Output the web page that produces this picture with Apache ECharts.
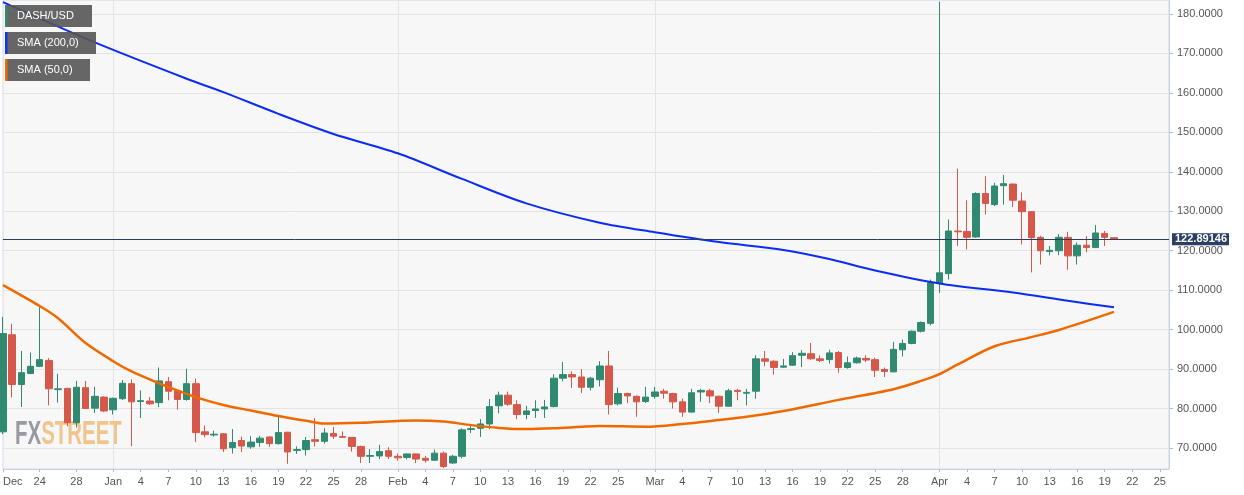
<!DOCTYPE html>
<html><head><meta charset="utf-8">
<script src="https://cdn.jsdelivr.net/npm/echarts@6/dist/echarts.min.js"></script>
<style>html,body{margin:0;padding:0;background:#fff}#c{width:1244px;height:495px}</style>
</head><body><div id="c"></div>
<script>
// ---- data ----
const firstDay = '2018-12-20';
const open = [
 74.1,98.7,86.1,88.9,90.7,92.2,84.8,85.1,76.4,85.3,80.1,82.9,
 79.7,82.5,86.3,81.8,81.9,81.5,86.8,84.5,82.3,86.3,74.1,73.3,73.6,70.1,71.9,70.3,71.4,72.8,71.1,74,69.4,69.6,72.1,71.7,73.7,72.9,72.7,70.4,67.9,68,69.3,
 67.9,67.6,68.5,67.4,66.9,68.7,66.2,67.9,74.7,75,76.1,80.7,83.4,81,78.5,79.5,79.9,80.5,87.7,88.6,88,85.4,87.3,90.8,81.2,83.8,83.1,81.8,
 83.1,84.4,83.8,81.7,79.1,84.2,84.5,83.1,80.6,84.6,83.9,84.4,92.6,92,90.5,91,93.5,93.9,92.6,92.4,94.2,90.4,91.6,92.7,92.4,89.9,89.3,94.9,96.5,99.6,101.6,
 111.9,114.2,125,124.9,123.5,134.5,131.7,136.5,136.9,132.6,129.9,123.4,119.8,120,123.4,118.7,121.4,120.8,124.4,123.3];
const close = [
 99,86.1,89.1,90.7,92.4,85,85,76.4,85.4,80,83.1,79.4,
 82.6,86.4,81.7,82,81.2,87,84.4,82.3,86.3,73.9,73.4,73.5,69.8,71.4,70.5,71.5,72.5,71.1,73.9,69,69.6,71.9,71.7,73.8,73,72.7,70.4,67.9,68.1,69.1,67.9,
 67.5,68.5,67.2,66.9,68.7,65.3,67.9,74.6,74.9,76.1,80.5,83.4,81.1,78.5,79.4,79.9,80.4,87.7,88.6,88,85.4,87.7,90.8,81,83.8,83.2,81.7,82.9,
 84.2,83.9,81.7,79.1,84,84.6,83.2,80.6,84.5,84.3,84.1,92.6,92,90.4,90.8,93.4,94,92.6,92.2,94.1,90.4,91.6,92.8,92.3,89.7,89.4,95,96.5,99.6,101.8,111.9,
 114.4,125,124.8,123.4,134.5,132,136.4,137,132.8,129.9,123.3,120,120.1,123.4,118.7,121.4,120.8,124.5,123.4,122.9];
const low = [
 73.5,82.8,80.4,88.7,90.5,80.8,81.5,75.5,75.2,80,78.9,79.1,
 78.5,82.2,70.5,77.6,80.9,80.4,82.1,79.7,82,71.5,72.7,72.9,69,68.6,69,69.8,70.3,70.3,70.9,66,68.5,68.1,70.4,71.1,72.3,72.6,69.1,66.2,66.2,67.2,67.2,
 66.8,67.1,66.2,66.3,66.8,64.9,66,67.4,73.8,72.8,74.8,78.8,80.7,77.3,77.3,77.6,77.6,80.3,86.9,85.2,83.9,84.6,85.6,78.5,80.8,81.4,77.9,81.4,
 82.5,82.5,80,77.9,79,81.7,81.4,78.9,80.5,82.1,80.8,82.5,90.7,88.6,90.3,90.8,90.5,92.4,91.8,91.4,89.1,90.1,91.4,91.8,88,88,89.2,93.2,96.3,99.3,101.1,
 109.3,112.7,121.2,120.3,123.3,129.2,131.3,131.7,131.1,121.6,114.5,116.5,118.8,118.9,115.2,116.5,119.6,120.8,121.2,122.9];
const high = [
 103.2,101.5,94.6,94.2,105.7,92.8,88.8,85.3,87,87,85.5,83.1,
 82.8,87.2,87.4,84.6,82.9,90.4,88,84.8,90.1,87.6,75.7,74.4,73.8,74.8,72.9,73,73.1,73,78,74.1,70.4,72.8,77.6,75,75.3,74.2,72.8,70.6,69.7,70.8,70.2,
 68.6,68.6,68.6,68,69.6,69.1,68.3,75,75.9,77.3,82.4,84.3,84.3,82.1,80.7,82.1,82.2,88.7,91.8,89.4,90,88,92,94.6,85.3,84,83.3,85.5,
 85.5,85,84,82.5,85,85,85,83.3,85,85,85,93.5,94.6,92.2,92.6,94.3,94.8,96.6,93.5,94.9,94.6,93.2,93.2,93.5,92.9,90.4,96.9,97.5,99.8,102.1,112.7,
 183.1,127.9,140.8,132.8,134.8,138.9,137.2,139.2,137,134.8,130,123.8,121.2,124.2,124.8,122.1,123.7,126.5,125,123.3];

const sma200Dates = ['2018-12-20','2018-12-30','2019-01-09','2019-01-13','2019-01-19','2019-01-25','2019-02-01','2019-02-08','2019-02-15','2019-02-23','2019-03-01','2019-03-08','2019-03-15','2019-03-20','2019-03-25','2019-04-01','2019-04-09','2019-04-15','2019-04-20'];
const sma200 = [183.0,172.8,163.6,160.2,154.7,149.6,144.7,138.2,132.0,127.1,124.7,122.2,120.2,117.9,115.0,111.7,109.4,107.3,105.65];

const sma50Dates = ['2018-12-20','2018-12-24','2018-12-26','2018-12-29','2019-01-01','2019-01-03','2019-01-06','2019-01-08','2019-01-10','2019-01-13','2019-01-16','2019-01-19','2019-01-22','2019-01-24','2019-01-28','2019-02-03','2019-02-06','2019-02-09','2019-02-12','2019-02-15','2019-02-18','2019-02-21','2019-02-23','2019-02-28','2019-03-04','2019-03-08','2019-03-11','2019-03-15','2019-03-21','2019-03-27','2019-03-30','2019-04-01','2019-04-03','2019-04-07','2019-04-11','2019-04-14','2019-04-20'];
const sma50 = [111.3,106,102.9,96.6,92.0,89.4,86.4,84.6,82.9,80.9,79.5,78.1,76.9,76.2,76.4,77.0,76.7,75.8,75.1,74.8,75.0,75.4,75.6,75.4,76.1,77.1,77.9,79.4,82.2,84.9,87.0,88.7,91.2,95.8,98.1,99.9,104.5];

const xTickDates = ['2018-12-20','2018-12-24','2018-12-28','2019-01-01','2019-01-04','2019-01-07','2019-01-10','2019-01-13','2019-01-16','2019-01-19','2019-01-22','2019-01-25','2019-01-28','2019-02-01','2019-02-04','2019-02-07','2019-02-10','2019-02-13','2019-02-16','2019-02-19','2019-02-22','2019-02-25','2019-03-01','2019-03-04','2019-03-07','2019-03-10','2019-03-13','2019-03-16','2019-03-19','2019-03-22','2019-03-25','2019-03-28','2019-04-01','2019-04-04','2019-04-07','2019-04-10','2019-04-13','2019-04-16','2019-04-19','2019-04-22','2019-04-25'];
const xTickLabels = ['Dec','24','28','Jan','4','7','10','13','16','19','22','25','28','Feb','4','7','10','13','16','19','22','25','Mar','4','7','10','13','16','19','22','25','28','Apr','4','7','10','13','16','19','22','25'];
const monthLines = ['2019-01-01','2019-02-01','2019-03-01','2019-04-01'];
const yTicks = [70,80,90,100,110,120,130,140,150,160,170,180];
const lastPrice = 122.89146;
const legendNames = ['DASH/USD','SMA (200,0)','SMA (50,0)'];

// ---- build ----
const DAY = 86400000;
const t0 = Date.parse(firstDay);
const candleData = open.map((o, i) => [t0 + i * DAY, o, close[i], low[i], high[i]]);
const xMin = t0, xMax = Date.parse('2019-04-26');
const yMin = 64.68, yMax = 183.55;
const xTickTs = xTickDates.map(d => Date.parse(d));
const monthTs = monthLines.map(d => Date.parse(d));
const FONT = 'Liberation Sans, Arial, sans-serif';
const UP = '#2f8a71', DOWN = '#d6584a';

const chart = echarts.init(document.getElementById('c'), null, {renderer: 'canvas'});
const legendColors = ['#2f8a6e', '#1035f0', '#ef6a00'];
const legendBoxes = [[5,5,87],[5,32,91],[5,59,85]];
const graphics = [];
legendNames.forEach((n, i) => {
  const [x, y, w] = legendBoxes[i];
  graphics.push({type:'rect', left:x, top:y, z:100, shape:{width:w, height:22}, style:{fill:'rgba(85,85,85,0.9)'}});
  graphics.push({type:'rect', left:x, top:y, z:101, shape:{width:2.5, height:22}, style:{fill:legendColors[i]}});
  graphics.push({type:'text', left:x+12, top:y+5, z:102, style:{text:n, fill:'#fff', font:'11px ' + FONT}});
});
graphics.push({type:'text', left:15, top:418, z:1, scaleX:0.62, originX:0,
  style:{text:'{a|FX}{b|STREET}', rich:{a:{fill:'#989aa2', font:'bold 33px ' + FONT}, b:{fill:'#f1c48e', font:'bold 33px ' + FONT}}}});

chart.setOption({
  animation: false,
  backgroundColor: '#ffffff',
  grid: {left: 0, right: 75, top: 0, bottom: 26, show: true, backgroundColor: '#f7f7f7', borderColor: '#d3d8e6', borderWidth: 1},
  graphic: graphics,
  xAxis: [{
    type: 'value', min: xMin, max: xMax,
    axisLine: {show: true, lineStyle: {color: '#c9d0e2'}},
    axisTick: {show: true, length: 3, lineStyle: {color: '#b9bfcc'}, customValues: xTickTs},
    axisLabel: {customValues: xTickTs, color: '#555', fontSize: 11, fontFamily: FONT, margin: 7, alignMinLabel: 'left',
      formatter: v => { const k = xTickTs.indexOf(v); return k >= 0 ? xTickLabels[k] : ''; }},
    splitLine: {show: false}
  }, {
    type: 'value', min: xMin, max: xMax, position: 'bottom',
    axisLine: {show: false}, axisLabel: {show: false},
    axisTick: {show: false, customValues: monthTs},
    splitLine: {show: true, lineStyle: {color: '#e4e4e4', width: 1}}
  }],
  yAxis: {
    type: 'value', position: 'right', min: yMin, max: yMax, scale: true,
    axisLine: {show: true, lineStyle: {color: '#c9d0e2'}},
    axisTick: {show: true, length: 4, lineStyle: {color: '#b9bfcc'}, customValues: yTicks},
    axisLabel: {customValues: yTicks, color: '#555', fontSize: 11, fontFamily: FONT, margin: 8, formatter: v => v.toFixed(4)},
    splitLine: {show: true, lineStyle: {color: '#e4e4e4'}}
  },
  series: [{
    type: 'candlestick', name: 'DASH/USD', data: candleData,
    encode: {x: 0, y: [1, 2, 3, 4]},
    barWidth: 7, z: 3,
    itemStyle: {color: UP, color0: DOWN, borderColor: UP, borderColor0: DOWN, borderWidth: 1},
    markLine: {
      silent: true, symbol: 'none', animation: false,
      data: [{yAxis: lastPrice}],
      lineStyle: {color: '#2b3d5c', width: 1, type: 'solid'},
      label: {position: 'end', distance: 3, formatter: () => lastPrice.toFixed(5), color: '#fff', fontWeight: 'bold',
        fontSize: 11, fontFamily: FONT, backgroundColor: '#2a3f63', padding: [1, 2, 0, 3]}
    }
  }, {
    type: 'line', name: 'SMA (200,0)', data: sma200Dates.map((d, i) => [Date.parse(d), sma200[i]]),
    smooth: 0.3, symbol: 'none', z: 4, lineStyle: {color: '#0b2cf2', width: 2}
  }, {
    type: 'line', name: 'SMA (50,0)', data: sma50Dates.map((d, i) => [Date.parse(d), sma50[i]]),
    smooth: 0.3, symbol: 'none', z: 4, lineStyle: {color: '#ee6a00', width: 2.5}
  }]
});
</script>
</body></html>
